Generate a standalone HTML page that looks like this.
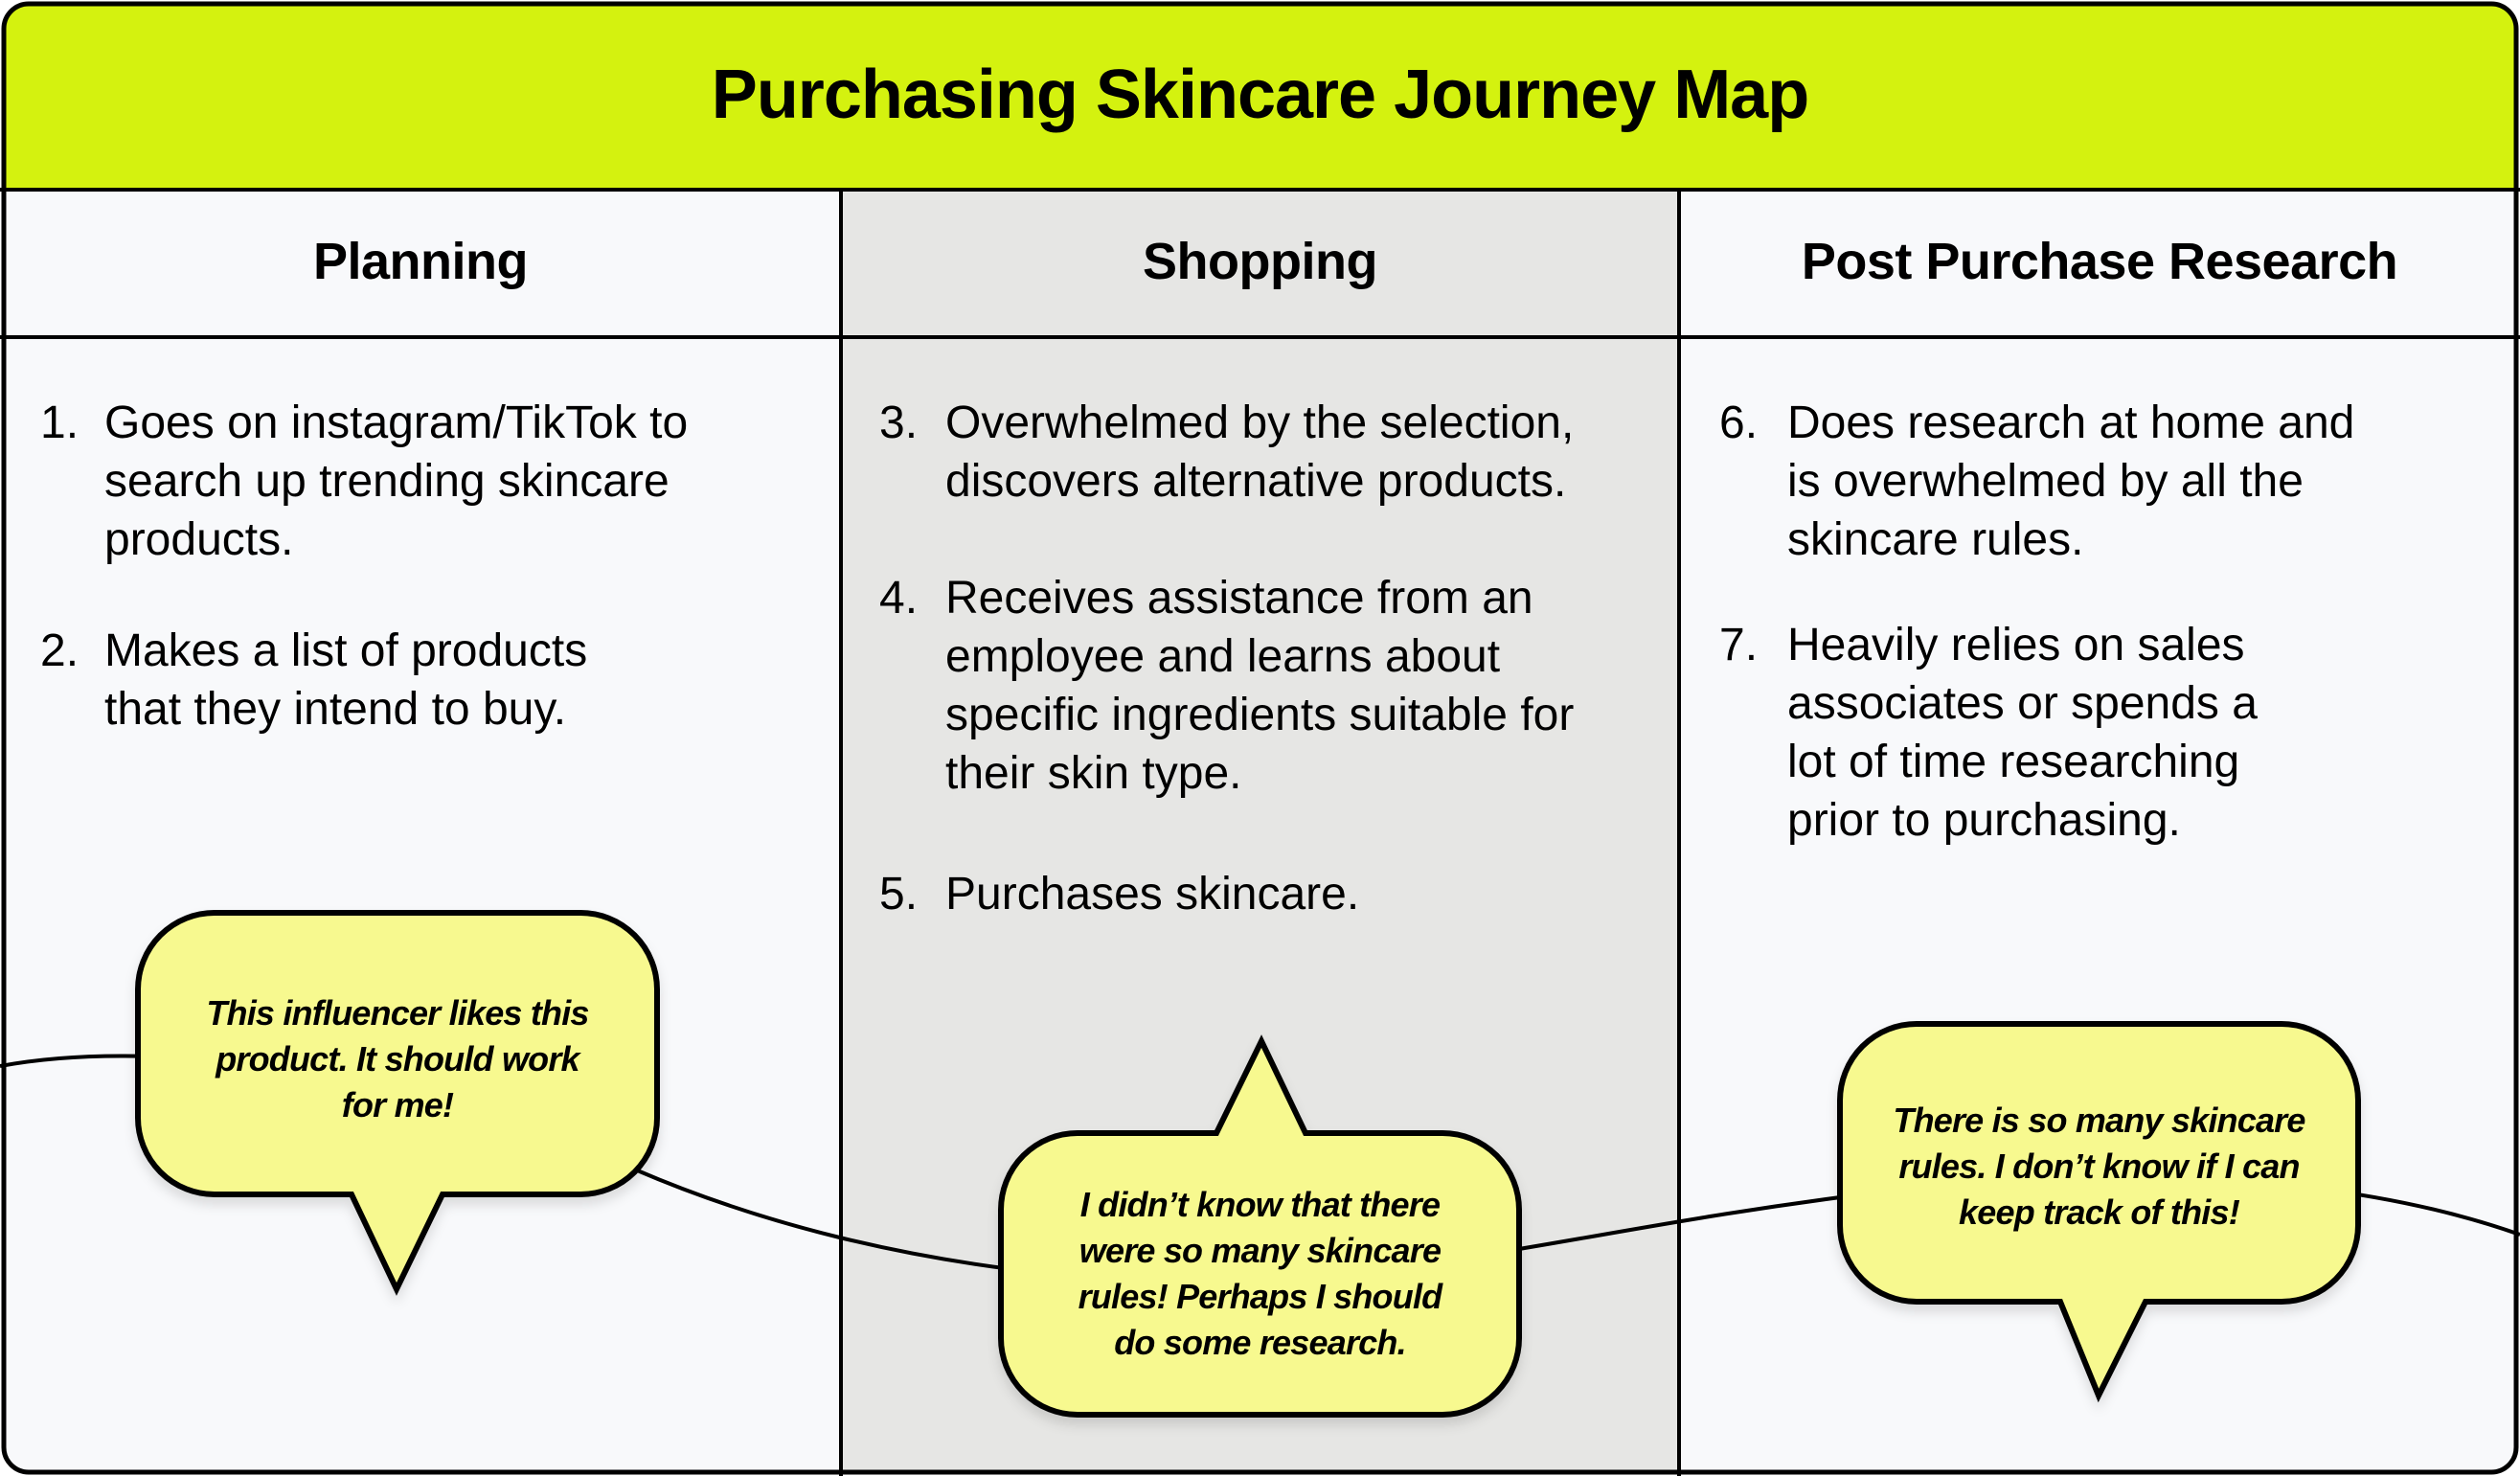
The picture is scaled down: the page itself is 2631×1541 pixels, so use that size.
<!DOCTYPE html>
<html><head><meta charset="utf-8"><style>
html,body{margin:0;padding:0;width:2631px;height:1541px;overflow:hidden;background:#fff;}
#c{position:relative;width:2631px;height:1541px;font-family:"Liberation Sans",sans-serif;color:#000;}
svg{position:absolute;left:0;top:0;}
.t{position:absolute;white-space:nowrap;}
.title{left:0;width:2631px;top:58px;text-align:center;font-size:72px;font-weight:bold;letter-spacing:-1px;}
.h{top:242px;font-size:54px;font-weight:bold;text-align:center;letter-spacing:-0.5px;}
.n{font-size:48px;line-height:61px;}
.b{position:absolute;font-size:36px;font-weight:bold;font-style:italic;line-height:48px;text-align:center;letter-spacing:-0.8px;display:flex;align-items:center;justify-content:center;}
</style></head><body><div id="c">
<svg width="2631" height="1541" viewBox="0 0 2631 1541">
<defs><filter id="sh" x="-10%" y="-10%" width="120%" height="130%"><feDropShadow dx="0" dy="8" stdDeviation="6" flood-color="#000" flood-opacity="0.12"/></filter>
<clipPath id="cl"><rect x="4" y="4" width="2623" height="1533" rx="26"/></clipPath></defs>
<g clip-path="url(#cl)">
<rect x="0" y="0" width="2631" height="1541" fill="#f8f9fb"/>
<rect x="878" y="198" width="875" height="1343" fill="#e6e6e4"/>
<rect x="0" y="0" width="2631" height="198" fill="#d4f20f"/>
</g>
<g stroke="#000" stroke-width="4" fill="none">
<line x1="0" y1="198" x2="2631" y2="198"/>
<line x1="0" y1="352" x2="2631" y2="352"/>
<line x1="878" y1="198" x2="878" y2="1541"/>
<line x1="1753" y1="198" x2="1753" y2="1541"/>
<path d="M0,1113 C150,1085 400,1110 663,1221 C800,1280 950,1315 1100,1330 L1586,1304 C1700,1285 1800,1265 1960,1245 C2200,1215 2450,1225 2631,1289"/>
</g>
<rect x="4" y="4" width="2623" height="1533" rx="26" fill="none" stroke="#000" stroke-width="5"/>
<g fill="#f7f98f" stroke="#000" stroke-width="6" stroke-linejoin="miter" filter="url(#sh)">
<path d="M224,953 H606 A80 80 0 0 1 686,1033 V1167 A80 80 0 0 1 606,1247 H462 L414,1346 L367,1247 H224 A80 80 0 0 1 144,1167 V1033 A80 80 0 0 1 224,953 Z"/>
<path d="M1125,1183 H1270 L1317,1087 L1363,1183 H1506 A80 80 0 0 1 1586,1263 V1397 A80 80 0 0 1 1506,1477 H1125 A80 80 0 0 1 1045,1397 V1263 A80 80 0 0 1 1125,1183 Z"/>
<path d="M2001,1069 H2382 A80 80 0 0 1 2462,1149 V1279 A80 80 0 0 1 2382,1359 H2240 L2191,1457 L2151,1359 H2001 A80 80 0 0 1 1921,1279 V1149 A80 80 0 0 1 2001,1069 Z"/>
</g>
</svg>
<div class="t title">Purchasing Skincare Journey Map</div>
<div class="t h" style="left:0;width:878px;">Planning</div>
<div class="t h" style="left:878px;width:875px;">Shopping</div>
<div class="t h" style="left:1753px;width:878px;">Post Purchase Research</div>

<div class="t n" style="left:42px;top:411px;">1.</div>
<div class="t n" style="left:109px;top:411px;">Goes on instagram/TikTok to<br>search up trending skincare<br>products.</div>
<div class="t n" style="left:42px;top:649px;">2.</div>
<div class="t n" style="left:109px;top:649px;">Makes a list of products<br>that they intend to buy.</div>

<div class="t n" style="left:918px;top:411px;">3.</div>
<div class="t n" style="left:987px;top:411px;">Overwhelmed by the selection,<br>discovers alternative products.</div>
<div class="t n" style="left:918px;top:594px;">4.</div>
<div class="t n" style="left:987px;top:594px;">Receives assistance from an<br>employee and learns about<br>specific ingredients suitable for<br>their skin type.</div>
<div class="t n" style="left:918px;top:903px;">5.</div>
<div class="t n" style="left:987px;top:903px;">Purchases skincare.</div>

<div class="t n" style="left:1795px;top:411px;">6.</div>
<div class="t n" style="left:1866px;top:411px;">Does research at home and<br>is overwhelmed by all the<br>skincare rules.</div>
<div class="t n" style="left:1795px;top:643px;">7.</div>
<div class="t n" style="left:1866px;top:643px;">Heavily relies on sales<br>associates or spends a<br>lot of time researching<br>prior to purchasing.</div>

<div class="b" style="left:144px;top:957px;width:542px;height:298px;">This influencer likes this<br>product. It should work<br>for me!</div>
<div class="b" style="left:1045px;top:1183px;width:541px;height:294px;">I didn’t know that there<br>were so many skincare<br>rules! Perhaps I should<br>do some research.</div>
<div class="b" style="left:1921px;top:1069px;width:541px;height:298px;">There is so many skincare<br>rules. I don’t know if I can<br>keep track of this!</div>
</div></body></html>
